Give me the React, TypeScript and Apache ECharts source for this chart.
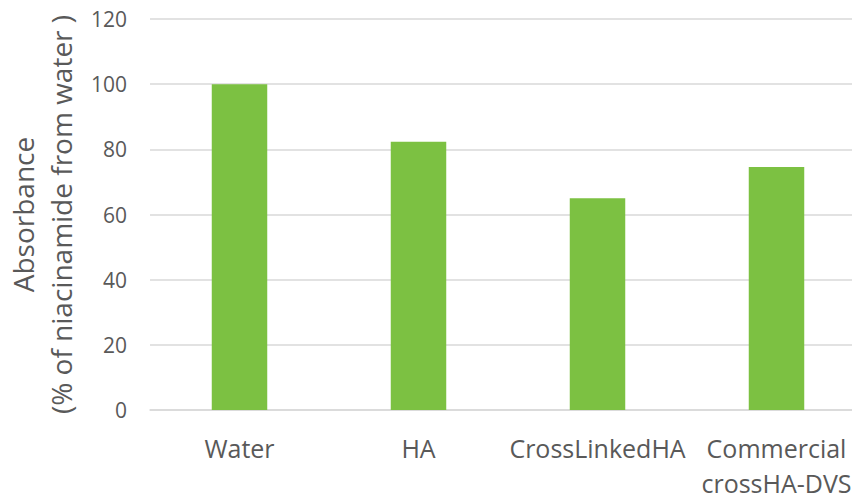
import React, { useEffect, useRef } from "react";
import * as echarts from "echarts";

const categories = ["Water", "HA", "CrossLinkedHA", "Commercial\ncrossHA-DVS"];
const absorbance = [100, 82.3, 65.0, 74.6];
const yTicks = { min: 0, max: 120, interval: 20 };
const yTitle = "Absorbance\n(% of niacinamide from water )";

export default function App() {
  const ref = useRef<HTMLDivElement>(null);
  useEffect(() => {
    if (!ref.current) return;
    const chart = echarts.init(ref.current, undefined, { renderer: "svg" });
    const font = "'Open Sans', sans-serif";
    chart.setOption({
      animation: false,
      backgroundColor: "#ffffff",
      grid: {
        left: 150,
        top: 19,
        width: 716,
        height: 391,
        containLabel: false,
        outerBoundsMode: "none",
      },
      xAxis: {
        type: "category",
        data: categories,
        axisLine: { show: true, lineStyle: { color: "#d9d9d9", width: 1.5 } },
        axisTick: { show: false },
        axisLabel: {
          color: "#595959",
          fontFamily: font,
          fontSize: 25,
          lineHeight: 35,
          margin: 20,
          interval: 0,
        },
        splitLine: { show: false },
      },
      yAxis: {
        type: "value",
        min: yTicks.min,
        max: yTicks.max,
        interval: yTicks.interval,
        name: yTitle,
        nameLocation: "middle",
        nameRotate: 90,
        nameGap: 68,
        nameTextStyle: {
          color: "#595959",
          fontFamily: font,
          fontSize: 28,
          lineHeight: 38,
        },
        axisLine: { show: false },
        axisTick: { show: false },
        axisLabel: {
          color: "#595959",
          fontFamily: font,
          fontSize: 21,
          margin: 23,
        },
        splitLine: { show: true, lineStyle: { color: "#d9d9d9", width: 1.5 } },
      },
      series: [
        {
          type: "bar",
          data: absorbance,
          barWidth: "31%",
          itemStyle: { color: "#7cc142" },
        },
      ],
    });
    return () => chart.dispose();
  }, []);
  return (
    <div
      ref={ref}
      style={{ position: "absolute", left: 0, top: 0, width: 852, height: 496 }}
    />
  );
}
